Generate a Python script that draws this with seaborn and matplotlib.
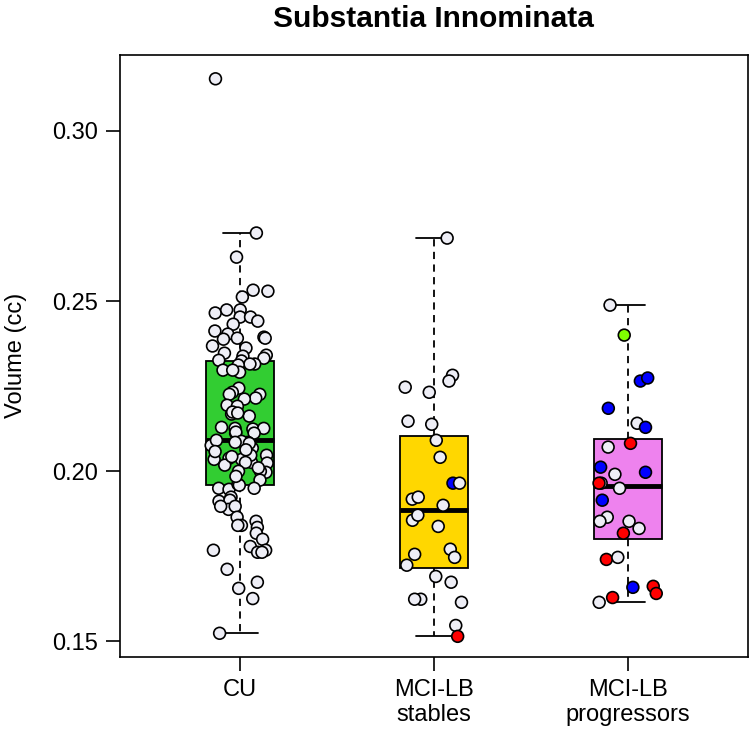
import numpy as np
import pandas as pd
import seaborn as sns
import matplotlib.pyplot as plt
from matplotlib.ticker import FormatStrFormatter

# groups on the x axis
GROUPS = ["CU", "MCI-LB\nstables", "MCI-LB\nprogressors"]

# volumes (cc)
cu_vol = [0.3153, 0.2700, 0.2629, 0.2532, 0.2529, 0.2512, 0.2474, 0.2465, 0.2474, 0.2453,
          0.2453, 0.2441, 0.2432, 0.2412, 0.2403, 0.2394, 0.2388, 0.2391, 0.2391, 0.2368,
          0.2362, 0.2341, 0.2347, 0.2338, 0.2332, 0.2326, 0.2324, 0.2315, 0.2315, 0.2312,
          0.2297, 0.2291, 0.2297, 0.2244, 0.2232, 0.2226, 0.2215, 0.2226, 0.2212, 0.2194,
          0.2191, 0.2168, 0.2162, 0.2174, 0.2171, 0.2124, 0.2126, 0.2126, 0.2129, 0.2112,
          0.2112, 0.2115, 0.2085, 0.2088, 0.2085, 0.2076, 0.2091, 0.2068, 0.2035, 0.2026,
          0.2047, 0.2047, 0.2035, 0.2038, 0.2026, 0.2018, 0.2024, 0.1997, 0.2000, 0.2000,
          0.1974, 0.1950, 0.1947, 0.1962, 0.1950, 0.1959, 0.1912, 0.1924, 0.1915, 0.1888,
          0.1897, 0.1897, 0.1865, 0.1853, 0.1835, 0.1841, 0.1841, 0.1818, 0.1800, 0.1779,
          0.1762, 0.1768, 0.1768, 0.1762, 0.1712, 0.1656, 0.1674, 0.1626, 0.1524,
          0.2082, 0.2058, 0.2043, 0.2010, 0.1985, 0.2063]

stable_vol = [0.2685, 0.2282, 0.2265, 0.2247, 0.2232, 0.2138, 0.2147, 0.2091, 0.2041, 0.1965,
              0.1965, 0.1918, 0.1924, 0.1900, 0.1856, 0.1871, 0.1838, 0.1756, 0.1771, 0.1747,
              0.1724, 0.1691, 0.1674, 0.1615, 0.1624, 0.1624, 0.1547, 0.1515]
stable_status = ["white"] * 9 + ["blue"] + ["white"] * 17 + ["red"]

prog_vol = [0.2488, 0.2400, 0.2265, 0.2274, 0.2185, 0.2141, 0.2129, 0.2082, 0.2071, 0.2012,
            0.1991, 0.1997, 0.1965, 0.1965, 0.1950, 0.1915, 0.1865, 0.1853, 0.1853, 0.1832,
            0.1818, 0.1741, 0.1747, 0.1659, 0.1662, 0.1641, 0.1629, 0.1615]
prog_status = ["white", "green", "blue", "blue", "blue", "white", "blue", "red", "white", "blue",
               "white", "blue", "white", "red", "white", "blue", "white", "white", "white", "white",
               "red", "red", "white", "blue", "red", "red", "red", "white"]

BOX_COLORS = ["#32CD32", "#FFD700", "#EE82EE"]
POINT_COLORS = {"white": "#EEEEF6", "blue": "#0000FF", "red": "#FF0000", "green": "#7FFF00"}

rows = []
for v in cu_vol:
    rows.append({"group": GROUPS[0], "volume": v, "status": "white"})
for v, s in zip(stable_vol, stable_status):
    rows.append({"group": GROUPS[1], "volume": v, "status": s})
for v, s in zip(prog_vol, prog_status):
    rows.append({"group": GROUPS[2], "volume": v, "status": s})
df = pd.DataFrame(rows)

sns.set_style("ticks")
plt.rcParams["font.family"] = ["Liberation Sans", "DejaVu Sans"]
plt.rcParams["text.color"] = "black"
plt.rcParams["axes.labelcolor"] = "black"
plt.rcParams["xtick.color"] = "black"
plt.rcParams["ytick.color"] = "black"

fig, ax = plt.subplots(figsize=(7.5, 7.33), dpi=100)
fig.subplots_adjust(left=0.16, right=0.997, top=0.925, bottom=0.104)

sns.boxplot(data=df, x="group", y="volume", hue="group", order=GROUPS, hue_order=GROUPS,
            palette=BOX_COLORS, saturation=1, width=0.35, whis=2.0, showfliers=False,
            legend=False, linecolor="black", linewidth=1.3, ax=ax,
            medianprops={"linewidth": 3.5, "color": "black"},
            whiskerprops={"linestyle": (0, (4, 3))},
            capwidths=0.18)

np.random.seed(7)
sns.stripplot(data=df, x="group", y="volume", hue="status", order=GROUPS,
              palette=POINT_COLORS, jitter=0.15, size=8.5, linewidth=1.2,
              edgecolor="black", legend=False, ax=ax, zorder=3)

ax.set_xlim(-0.62, 2.62)
ax.set_ylim(0.1455, 0.3223)
ax.set_yticks([0.15, 0.20, 0.25, 0.30])
ax.yaxis.set_major_formatter(FormatStrFormatter("%.2f"))
for sp in ax.spines.values():
    sp.set_visible(True)
    sp.set_color("black")
    sp.set_linewidth(1.2)
ax.tick_params(axis="both", length=10, width=1.2, color="black", labelcolor="black",
               labelsize=17, pad=6)

ax.set_xlabel("")
ax.set_ylabel("Volume (cc)", fontsize=17, labelpad=18, color="black")
ax.set_title("Substantia Innominata", fontsize=21.5, fontweight="bold", pad=20, color="black")

plt.savefig("out.png", dpi=100)
